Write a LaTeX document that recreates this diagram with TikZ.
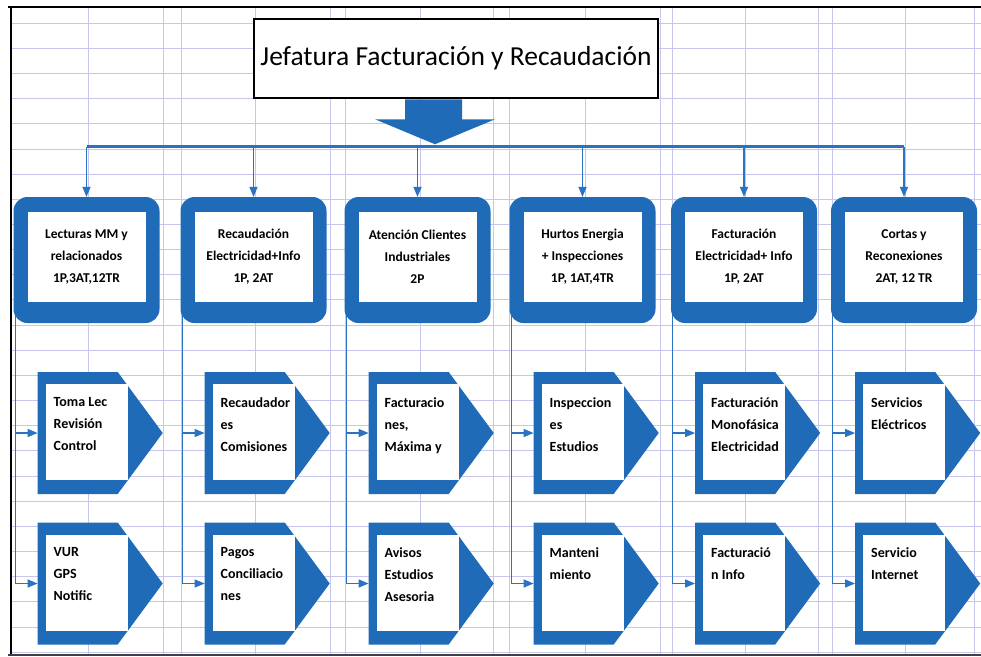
\documentclass[tikz,border=0pt]{standalone}
\usepackage{fontspec}
\setmainfont{Carlito}
\usepackage{tikz}
\definecolor{BoxBlue}{rgb}{0.12,0.42,0.72}
\definecolor{LineBlue}{rgb}{0.16,0.45,0.76}
\definecolor{GridLav}{rgb}{0.78,0.78,0.93}
\usetikzlibrary{calc,backgrounds}
\usetikzlibrary{arrows,positioning}
\tikzset{
    area/.style={rectangle, rounded corners=14pt, fill=BoxBlue, minimum width=146pt, minimum height=126pt},
    areain/.style={rectangle, fill=white, minimum width=118pt, minimum height=90pt, inner sep=0pt,
        align=center, font=\fontsize{13.5}{22}\selectfont\bfseries},
    stage/.style={rectangle, minimum width=125pt, minimum height=122pt, inner sep=0pt, anchor=west,
        path picture={
            \fill[BoxBlue] (path picture bounding box.north west)
                -- ($(path picture bounding box.north east)+(-45pt,0pt)$)
                -- (path picture bounding box.east)
                -- ($(path picture bounding box.south east)+(-45pt,0pt)$)
                -- (path picture bounding box.south west) -- cycle;
        }},
    stagein/.style={rectangle, fill=white, minimum width=82pt, minimum height=96pt, inner sep=0pt, anchor=north west},
    stagetxt/.style={anchor=north west, align=left, inner sep=0pt, font=\fontsize{14}{22}\selectfont\bfseries},
    link/.style={->, >=triangle 45, LineBlue, line width=1.3pt},
    sheet/.style={GridLav, line width=0.6pt}
}
\begin{document}
\begin{tikzpicture}[x=1pt,y=-1pt]
        \useasboundingbox (0,0) rectangle (981,656);

        % the sheet behind the chart
        \begin{scope}[on background layer]
            \foreach \k in {0,...,25}{
                \draw[sheet] (11,23+25.16*\k) -- (981,23+25.16*\k);
            }
            \foreach \x in {88,163,181,255,330,345,420,493,509,585,660,672,745,818,832,905,974}{
                \draw[sheet] (\x,7) -- (\x,656);
            }
        \end{scope}
        \draw[line width=2pt] (8,7) -- (981,7);
        \draw[line width=2.5pt] (11,7) -- (11,656);
        \draw[line width=2pt, black!75] (8,655) -- (981,655);

        % Draw the head office
        \node[draw, line width=2.5pt, fill=white, minimum width=404pt, minimum height=79pt,
            font=\fontsize{27.5}{30}\selectfont] (title) at (456,58.5) {Jefatura Facturación y Recaudación};
        \fill[BoxBlue] ($(title.south)+(-51,0)$) -- ++(57,0) -- ++(0,20) -- ++(33,0)
            -- ++(-60,25) -- ++(-60,-25) -- ++(30,0) -- cycle;

        % Draw the areas with their two tasks each
        \foreach \x/\atxt/\utxt/\dtxt[count=\c] in {
            86.5/{Lecturas MM y\\relacionados\\1P,3AT,12TR}/{Toma Lec\\Revisión\\Control}/{VUR\\GPS\\Notific},
            253.5/{Recaudación\\Electricidad+Info\\1P, 2AT}/{Recaudador\\es\\Comisiones}/{Pagos\\Conciliacio\\nes},
            417.5/{Atención Clientes\\Industriales\\2P}/{Facturacio\\nes,\\Máxima y}/{Avisos\\Estudios\\Asesoria},
            582.5/{Hurtos Energia\\+ Inspecciones\\1P, 1AT,4TR}/{Inspeccion\\es\\Estudios}/{Manteni\\miento},
            744/{Facturación\\Electricidad+ Info\\1P, 2AT}/{Facturación\\Monofásica\\Electricidad}/{Facturació\\n Info},
            904/{Cortas y\\Reconexiones\\2AT, 12 TR}/{Servicios\\Eléctricos}/{Servicio\\Internet}}{
            \node[area] (a\c) at (\x,260) {};
            \node[areain] (ai\c) at ($(a\c)+(0,-3)$) {\atxt};
            \coordinate (b\c) at ($(a\c.north)+(0,-50)$);
            \coordinate (v\c) at ($(a\c.west)+(2,0)$);

            \node[stage] (u\c) at (\x-49,433) {};
            \node[stagein] (ui\c) at ($(u\c.west)+(8,-49)$) {};
            \node[stagetxt] (ut\c) at ($(ui\c.north west)+(8,13)$) {\utxt};

            \node[stage] (d\c) at (\x-49,583.5) {};
            \node[stagein] (di\c) at ($(d\c.west)+(8,-49)$) {};
            \node[stagetxt] (dt\c) at ($(di\c.north west)+(8,13)$) {\dtxt};
        }

        % Draw the bus under the head office
        \draw[LineBlue, line width=3pt] (b1) -- (b6);
        \foreach \c in {1,...,6}{
            \draw[link] (b\c) -- (a\c.north);
        }

        % Draw the links from each area to its tasks
        \begin{scope}[on background layer]
            \foreach \c in {1,...,6}{
                \draw[link] (v\c) |- (u\c.west);
                \draw[link] (v\c) |- (d\c.west);
            }
        \end{scope}
\end{tikzpicture}
\end{document}
